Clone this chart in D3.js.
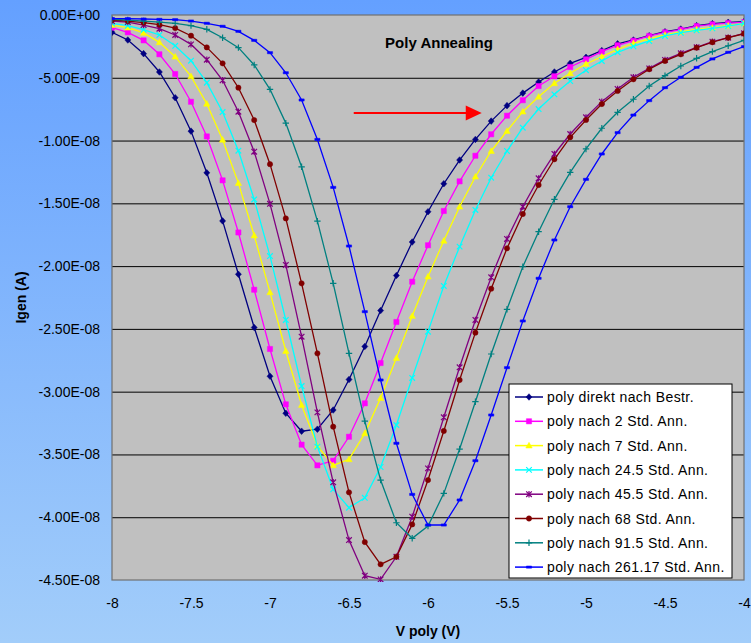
<!DOCTYPE html>
<html>
<head>
<meta charset="utf-8">
<script src="https://cdn.jsdelivr.net/npm/d3@7"></script>
<style>
  html, body { margin: 0; padding: 0; }
  svg { display: block; font-family: 'Liberation Sans', Arial, sans-serif; }
</style>
</head>
<body>
<svg id="chart" width="751" height="643"></svg>
<script>
// V poly (V)
const vPoly = [-8, -7.9, -7.8, -7.7, -7.6, -7.5, -7.4, -7.3, -7.2, -7.1, -7, -6.9, -6.8, -6.7, -6.6, -6.5, -6.4, -6.3, -6.2, -6.1,
  -6, -5.9, -5.8, -5.7, -5.6, -5.5, -5.4, -5.3, -5.2, -5.1, -5, -4.9, -4.8, -4.7, -4.6, -4.5, -4.4, -4.3, -4.2, -4.1, -4]

// Igen in nA (x 1e-9 A)
const direkt = [-1.38, -1.99, -3.08, -4.54, -6.59, -9.25, -12.57, -16.4, -20.65, -24.89, -28.77, -31.72, -33.15, -32.99, -31.46, -29.03, -26.4, -23.54, -20.75, -18.08,
  -15.67, -13.44, -11.55, -9.91, -8.45, -7.22, -6.22, -5.34, -4.54, -3.85, -3.37, -2.84, -2.29, -1.99, -1.65, -1.33, -1.12, -0.85, -0.69, -0.58, -0.53]
const nach2 = [-1.01, -1.38, -2.02, -3.13, -4.7, -6.91, -9.67, -13.17, -17.32, -21.88, -26.6, -31.01, -34.22, -35.87, -35.5, -33.59, -30.93, -27.72, -24.45, -21.24,
  -18.34, -15.61, -13.25, -11.21, -9.5, -8.02, -6.79, -5.66, -4.88, -4.14, -3.53, -2.92, -2.41, -2.05, -1.67, -1.38, -1.17, -0.88, -0.74, -0.64, -0.58]
const nach7 = [-0.8, -1.01, -1.43, -2.18, -3.32, -4.89, -7.07, -9.94, -13.39, -17.56, -22.09, -26.76, -31.06, -34.33, -35.87, -35.39, -33.32, -30.51, -27.32, -23.97,
  -20.84, -17.98, -15.27, -12.88, -10.83, -9.24, -7.7, -6.51, -5.44, -4.64, -3.9, -3.32, -2.73, -2.25, -1.91, -1.59, -1.35, -1.14, -1.01, -0.85, -0.66]
const nach24 = [-0.66, -0.85, -1.17, -1.59, -2.45, -3.64, -5.39, -7.73, -10.81, -14.69, -19.2, -24.29, -29.55, -34.38, -37.78, -39.24, -38.45, -36, -32.66, -28.91,
  -25.22, -21.58, -18.45, -15.53, -12.96, -10.83, -8.98, -7.49, -6.32, -5.26, -4.4, -3.66, -2.97, -2.49, -2.07, -1.67, -1.41, -1.22, -1.06, -0.88, -0.66]
const nach45 = [-0.48, -0.56, -0.8, -1.09, -1.59, -2.34, -3.56, -5.2, -7.7, -10.89, -15.04, -19.91, -25.62, -31.65, -37.22, -41.82, -44.66, -44.95, -43.15, -39.96,
  -36.11, -32.04, -28.06, -24.29, -20.89, -17.84, -15.27, -13.01, -11.07, -9.48, -8.15, -6.9, -5.89, -4.96, -4.25, -3.58, -3.05, -2.57, -2.12, -1.81, -1.46]
const nach68 = [-0.4, -0.48, -0.61, -0.77, -1.04, -1.65, -2.58, -3.85, -5.79, -8.37, -11.88, -16.2, -21.37, -26.95, -32.79, -38.02, -41.98, -43.75, -43.15, -40.57,
  -37.04, -33.13, -29.07, -25.3, -21.8, -18.58, -15.85, -13.54, -11.49, -9.74, -8.36, -7.09, -6.05, -5.12, -4.32, -3.66, -3.13, -2.6, -2.17, -1.81, -1.49]
const nach91 = [-0.35, -0.4, -0.48, -0.56, -0.66, -0.85, -1.14, -1.81, -2.6, -3.98, -5.92, -8.61, -12.09, -16.42, -21.37, -26.95, -32.34, -37.04, -40.44, -41.68,
  -40.7, -38.1, -34.57, -30.8, -27, -23.44, -20.05, -17.26, -14.68, -12.53, -10.67, -9.02, -7.75, -6.71, -5.66, -4.83, -4.06, -3.45, -2.92, -2.45, -2.02]
const nach261 = [-0.29, -0.29, -0.32, -0.35, -0.37, -0.48, -0.66, -0.9, -1.3, -2.02, -3, -4.6, -6.77, -9.91, -13.73, -18.4, -23.63, -29.07, -34.11, -38.18,
  -40.62, -40.62, -38.63, -35.5, -31.86, -28.09, -24.37, -20.97, -17.92, -15.27, -13.09, -11.07, -9.37, -7.97, -6.82, -5.79, -4.96, -4.17, -3.5, -2.97, -2.52]

const seriesNames = ['poly direkt nach Bestr.', 'poly nach 2 Std. Ann.', 'poly nach 7 Std. Ann.', 'poly nach 24.5 Std. Ann.',
  'poly nach 45.5 Std. Ann.', 'poly nach 68 Std. Ann.', 'poly nach 91.5 Std. Ann.', 'poly nach 261.17 Std. Ann.']
const seriesValues = [direkt, nach2, nach7, nach24, nach45, nach68, nach91, nach261]

const xTicks = [-8, -7.5, -7, -6.5, -6, -5.5, -5, -4.5, -4]
const yTicks = [0, -5, -10, -15, -20, -25, -30, -35, -40, -45]

// annotation arrow (V, nA)
const arrowFrom = [-6.47, -7.8]
const arrowTo = [-5.66, -7.8]

const colors = ['#000080', '#ff00ff', '#ffff00', '#00ffff', '#800080', '#800000', '#008080', '#0000ff']
const markers = ['diamond', 'square', 'triangle', 'x', 'star', 'circle', 'plus', 'dash']

const margin = { top: 15, right: 7, bottom: 63, left: 112 }
const W = 751
const H = 643
const w = W - margin.left - margin.right
const h = H - margin.top - margin.bottom

function sciLabel(nA) {
  if (nA === 0) return '0.00E+00'
  const parts = (nA * 1e-9).toExponential(2).split('e')
  const e = +parts[1]
  return parts[0] + 'E' + (e < 0 ? '-' : '+') + String(Math.abs(e)).padStart(2, '0')
}

function markerPath(kind) {
  switch (kind) {
    case 'diamond': return 'M0,-3.3L3,0L0,3.3L-3,0Z'
    case 'square': return 'M-2.6,-2.6H2.6V2.6H-2.6Z'
    case 'triangle': return 'M0,-3.3L3.2,2.4H-3.2Z'
    case 'circle': return d3.symbol(d3.symbolCircle, 22)()
    case 'x': return 'M-2.8,-2.8L2.8,2.8M-2.8,2.8L2.8,-2.8'
    case 'star': return 'M-2.8,-2.8L2.8,2.8M-2.8,2.8L2.8,-2.8M0,-3.2L0,3.2'
    case 'plus': return 'M-3.2,0L3.2,0M0,-3.2L0,3.2'
    case 'dash': return 'M-2.6,-1.1H2.6V1.1H-2.6Z'
  }
}
const isStroked = k => k === 'x' || k === 'star' || k === 'plus'

const svg = d3.select('#chart')

const defs = svg.append('defs')
const grad = defs.append('linearGradient')
  .attr('id', 'bg')
  .attr('x1', 0).attr('y1', 0).attr('x2', 0).attr('y2', 1)
grad.append('stop').attr('offset', '0%').attr('stop-color', '#64a0ff')
grad.append('stop').attr('offset', '100%').attr('stop-color', '#a2cdfa')
defs.append('clipPath').attr('id', 'clip')
  .append('rect').attr('x', 0).attr('y', -2).attr('width', w).attr('height', h + 4)

svg.append('rect').attr('width', W).attr('height', H).attr('fill', 'url(#bg)')

const x = d3.scaleLinear().domain([-8, -4]).range([0, w])
const y = d3.scaleLinear().domain([-45, 0]).range([h, 0])

const g = svg.append('g')
  .attr('transform', 'translate(' + margin.left + ',' + margin.top + ')')

g.append('rect').attr('width', w).attr('height', h).attr('fill', '#c0c0c0')

// gridlines
const grid = g.append('g')
  .call(d3.axisLeft(y).tickValues(yTicks.slice(1, -1)).tickSize(-w).tickFormat(''))
grid.select('.domain').remove()
grid.selectAll('line').attr('stroke', '#000').attr('stroke-width', 1)

// frame
g.append('rect').attr('width', w).attr('height', h)
  .attr('fill', 'none').attr('stroke', '#707070').attr('stroke-width', 1.2)

// y axis labels
const yAxis = g.append('g')
  .call(d3.axisLeft(y).tickValues(yTicks).tickFormat(sciLabel).tickSize(0).tickPadding(12))
yAxis.select('.domain').remove()
yAxis.selectAll('text')
  .attr('fill', '#000')
  .style('font-size', '14px')
  .style('font-family', "'Liberation Sans', Arial, sans-serif")

// x axis labels
const xAxis = g.append('g')
  .attr('transform', 'translate(0,' + h + ')')
  .call(d3.axisBottom(x).tickValues(xTicks).tickFormat(d => String(d)).tickSize(0).tickPadding(18))
xAxis.select('.domain').remove()
xAxis.selectAll('text')
  .attr('fill', '#000')
  .style('font-size', '14px')
  .style('font-family', "'Liberation Sans', Arial, sans-serif")

// axis titles
svg.append('text')
  .attr('x', margin.left + w / 2).attr('y', 636)
  .attr('text-anchor', 'middle')
  .style('font-size', '14px').style('font-weight', 'bold')
  .text('V poly (V)')
svg.append('text')
  .attr('transform', 'translate(26,' + (margin.top + h / 2) + ') rotate(-90)')
  .attr('text-anchor', 'middle')
  .style('font-size', '14px').style('font-weight', 'bold')
  .text('Igen (A)')

// title
g.append('text')
  .attr('x', 327).attr('y', 33)
  .attr('text-anchor', 'middle')
  .style('font-size', '15px').style('font-weight', 'bold')
  .text('Poly Annealing')

// series
const plot = g.append('g').attr('clip-path', 'url(#clip)')
const line = d3.line()
  .x((d, i) => x(vPoly[i]))
  .y(d => y(d))

seriesValues.forEach((vals, s) => {
  const col = colors[s]
  const kind = markers[s]
  const sg = plot.append('g')
  sg.append('path')
    .datum(vals)
    .attr('fill', 'none')
    .attr('stroke', col)
    .attr('stroke-width', 1.3)
    .attr('d', line)
  sg.selectAll('path.mk')
      .data(vals)
    .enter().append('path')
      .attr('class', 'mk')
      .attr('transform', (d, i) => 'translate(' + x(vPoly[i]) + ',' + y(d) + ')')
      .attr('d', markerPath(kind))
      .attr('fill', isStroked(kind) ? 'none' : col)
      .attr('stroke', col)
      .attr('stroke-width', isStroked(kind) ? 1.2 : 0.5)
})

// arrow
g.append('line')
  .attr('x1', x(arrowFrom[0])).attr('y1', y(arrowFrom[1]))
  .attr('x2', x(arrowTo[0]) - 14).attr('y2', y(arrowTo[1]))
  .attr('stroke', '#ff0000').attr('stroke-width', 2)
g.append('path')
  .attr('d', 'M' + (x(arrowTo[0]) - 16) + ',' + (y(arrowTo[1]) - 7.5) +
    'L' + x(arrowTo[0]) + ',' + y(arrowTo[1]) +
    'L' + (x(arrowTo[0]) - 16) + ',' + (y(arrowTo[1]) + 7.5) + 'Z')
  .attr('fill', '#ff0000')

// legend
const legend = svg.append('g').attr('transform', 'translate(509,384)')
legend.append('rect')
  .attr('width', 223).attr('height', 194)
  .attr('fill', '#fff').attr('stroke', '#000').attr('stroke-width', 1)
seriesNames.forEach((name, s) => {
  const row = legend.append('g').attr('transform', 'translate(0,' + (13 + s * 24.3) + ')')
  row.append('line')
    .attr('x1', 6).attr('x2', 34)
    .attr('stroke', colors[s]).attr('stroke-width', 1.5)
  row.append('path')
    .attr('transform', 'translate(20,0)')
    .attr('d', markerPath(markers[s]))
    .attr('fill', isStroked(markers[s]) ? 'none' : colors[s])
    .attr('stroke', colors[s])
    .attr('stroke-width', isStroked(markers[s]) ? 1.2 : 0.5)
  row.append('text')
    .attr('x', 38).attr('y', 5)
    .style('font-size', '14px')
    .style('letter-spacing', '0.4px')
    .text(name)
})
</script>
</body>
</html>
